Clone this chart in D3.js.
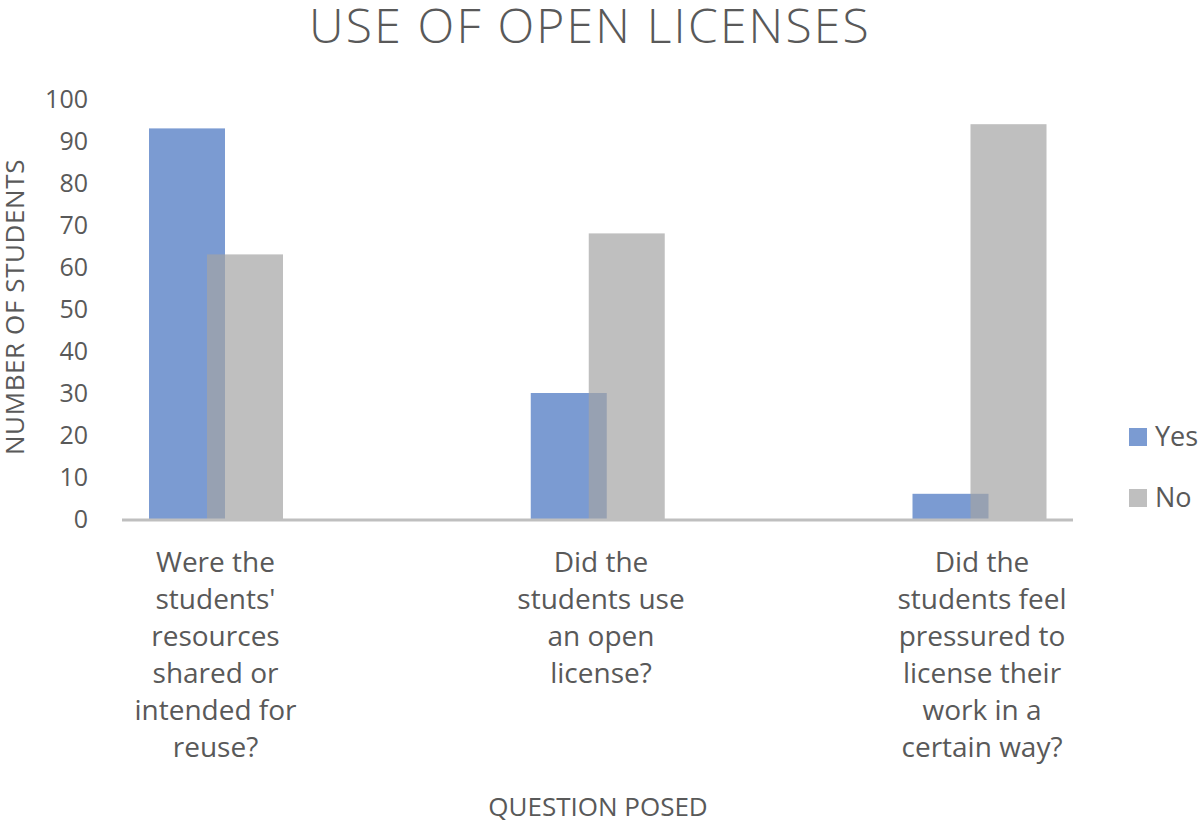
<!DOCTYPE html>
<html>
<head>
<meta charset="utf-8">
<script src="https://cdn.jsdelivr.net/npm/d3@7"></script>
<style>
  body { margin: 0; background: #fff; }
  svg text { font-family: "Open Sans", "Noto Sans", sans-serif; fill: #595959; }
</style>
</head>
<body>
<svg id="chart" width="1200" height="825"></svg>
<script>

var questions = [
    ["Were the", "students'", "resources", "shared or", "intended for", "reuse?"],
    ["Did the", "students use", "an open", "license?"],
    ["Did the", "students feel", "pressured to", "license their", "work in a", "certain way?"]
];
var yesValues = [93, 30, 6];
var noValues  = [63, 68, 94];
var series = ["Yes", "No"];
var yTicks = [0, 10, 20, 30, 40, 50, 60, 70, 80, 90, 100];

var colors = { "Yes": "#7b9bd2", "No": "#a4a4a4" };

var svg = d3.select("#chart");

var x = d3.scalePoint().domain([0, 1, 2]).range([215.5, 979]);
var y = d3.scaleLinear().domain([0, 100]).range([519, 99]);

var barW = 76;

// title
svg.append("text")
    .attr("x", 590).attr("y", 43)
    .attr("text-anchor", "middle")
    .style("font-size", "48px")
    .style("font-weight", 300)
    .style("letter-spacing", "2.2px")
    .text("USE OF OPEN LICENSES");

// y tick labels
svg.append("g").selectAll("text")
    .data(yTicks)
    .enter().append("text")
    .attr("x", 88)
    .attr("y", function(d){ return y(d); })
    .attr("dy", ".35em")
    .attr("text-anchor", "end")
    .style("font-size", "25px")
    .text(function(d){ return d; });

// y axis title
svg.append("text")
    .attr("transform", "translate(15,307) rotate(-90)")
    .attr("text-anchor", "middle")
    .attr("dy", ".35em")
    .style("font-size", "26px")
    .style("letter-spacing", "0.6px")
    .text("NUMBER OF STUDENTS");

// yes bars
svg.append("g").selectAll("rect")
    .data(yesValues)
    .enter().append("rect")
    .attr("x", function(d, i){ return x(i) - 66.5; })
    .attr("y", function(d){ return y(d); })
    .attr("width", barW)
    .attr("height", function(d){ return y(0) - y(d); })
    .attr("fill", colors["Yes"]);

// no bars, drawn over with transparency
svg.append("g").selectAll("rect")
    .data(noValues)
    .enter().append("rect")
    .attr("x", function(d, i){ return x(i) - 8.5; })
    .attr("y", function(d){ return y(d); })
    .attr("width", barW)
    .attr("height", function(d){ return y(0) - y(d); })
    .attr("fill", colors["No"])
    .attr("fill-opacity", 0.7);

// axis line
svg.append("line")
    .attr("x1", 122).attr("x2", 1073)
    .attr("y1", y(0) + 1).attr("y2", y(0) + 1)
    .attr("stroke", "#bfbfbf")
    .attr("stroke-width", 3);

// category labels
var labelX = [215.5, 601, 982];
questions.forEach(function(lines, i){
    var t = svg.append("text")
        .attr("text-anchor", "middle")
        .style("font-size", "28px");
    lines.forEach(function(l, j){
        t.append("tspan")
            .attr("x", labelX[i])
            .attr("y", 572 + j * 37)
            .text(l);
    });
});

// x axis title
svg.append("text")
    .attr("x", 598).attr("y", 816)
    .attr("text-anchor", "middle")
    .style("font-size", "26px")
    .text("QUESTION POSED");

// legend
var leg = svg.append("g").selectAll("g")
    .data(series)
    .enter().append("g")
    .attr("transform", function(d, i){ return "translate(1129," + (428 + i * 61) + ")"; });
leg.append("rect")
    .attr("width", 18).attr("height", 18)
    .attr("fill", function(d){ return d == "Yes" ? colors["Yes"] : "#bfbfbf"; });
leg.append("text")
    .attr("x", 26).attr("y", 9)
    .attr("dy", ".35em")
    .style("font-size", "27px")
    .text(function(d){ return d; });

</script>
</body>
</html>
